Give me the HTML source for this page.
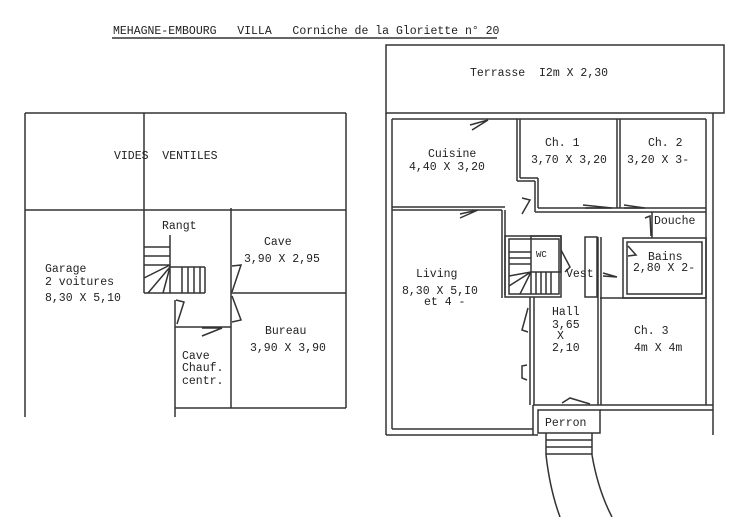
<!DOCTYPE html>
<html><head><style>
body{margin:0;background:#fff;}
svg{display:block}
text{font-family:"Liberation Mono",monospace;font-size:11.5px;fill:#222;white-space:pre;}
</style></head><body>
<svg width="736" height="517" viewBox="0 0 736 517" xmlns="http://www.w3.org/2000/svg">
<g stroke="#333" stroke-width="1.5" fill="none">
<line x1="112" y1="38" x2="497" y2="38"/>
<line x1="25" y1="113" x2="346" y2="113"/>
<line x1="25" y1="113" x2="25" y2="417"/>
<line x1="346" y1="113" x2="346" y2="408"/>
<line x1="144" y1="113" x2="144" y2="293"/>
<line x1="25" y1="210" x2="346" y2="210"/>
<line x1="231" y1="208" x2="231" y2="408"/>
<line x1="231" y1="293" x2="346" y2="293"/>
<line x1="175" y1="327" x2="231" y2="327"/>
<line x1="175" y1="300" x2="175" y2="417"/>
<line x1="175" y1="408" x2="346" y2="408"/>
<line x1="170" y1="235" x2="170" y2="293"/>
<line x1="144" y1="247" x2="170" y2="247"/>
<line x1="144" y1="256" x2="170" y2="256"/>
<line x1="144" y1="265" x2="170" y2="265"/>
<line x1="170" y1="267" x2="205" y2="267"/>
<line x1="144" y1="293" x2="205" y2="293"/>
<line x1="205" y1="267" x2="205" y2="293"/>
<line x1="182" y1="267" x2="182" y2="293"/>
<line x1="188" y1="267" x2="188" y2="293"/>
<line x1="194" y1="267" x2="194" y2="293"/>
<line x1="200" y1="267" x2="200" y2="293"/>
<line x1="170" y1="265" x2="144" y2="278"/>
<line x1="170" y1="267" x2="148" y2="293"/>
<line x1="170" y1="267" x2="163" y2="293"/>
<polyline points="176,300 184,302 177,324"/>
<polyline points="232,266 241,265 232,292"/>
<polyline points="232,296 241,320 232,322"/>
<polyline points="202,328 222,328 202,336"/>
<rect x="386" y="45" width="338" height="68"/>
<line x1="386" y1="113" x2="386" y2="435"/>
<line x1="392" y1="119" x2="392" y2="429"/>
<line x1="713" y1="113" x2="713" y2="435"/>
<line x1="706" y1="119" x2="706" y2="405"/>
<line x1="386" y1="435" x2="538" y2="435"/>
<line x1="392" y1="429" x2="533" y2="429"/>
<line x1="392" y1="119" x2="706" y2="119"/>
<line x1="600" y1="405" x2="713" y2="405"/>
<line x1="600" y1="410" x2="713" y2="410"/>
<line x1="517" y1="119" x2="517" y2="181"/>
<line x1="520" y1="119" x2="520" y2="178"/>
<line x1="517" y1="181" x2="535" y2="181"/>
<line x1="520" y1="178" x2="538" y2="178"/>
<line x1="535" y1="181" x2="535" y2="212"/>
<line x1="538" y1="178" x2="538" y2="208"/>
<line x1="617" y1="119" x2="617" y2="208"/>
<line x1="620" y1="119" x2="620" y2="208"/>
<line x1="392" y1="207" x2="505" y2="207"/>
<line x1="392" y1="210" x2="502" y2="210"/>
<line x1="538" y1="208" x2="706" y2="208"/>
<line x1="535" y1="212" x2="706" y2="212"/>
<line x1="502" y1="210" x2="502" y2="298"/>
<line x1="505" y1="210" x2="505" y2="295"/>
<line x1="652" y1="212" x2="652" y2="238"/>
<rect x="623" y="238" width="83" height="60"/>
<rect x="627" y="242" width="75" height="52"/>
<line x1="600" y1="298" x2="706" y2="298"/>
<rect x="505" y="236" width="56" height="61"/>
<rect x="509" y="239" width="50" height="55"/>
<rect x="531" y="236" width="30" height="36"/>
<line x1="531" y1="272" x2="531" y2="294"/>
<line x1="536" y1="272" x2="536" y2="294"/>
<line x1="541" y1="272" x2="541" y2="294"/>
<line x1="546" y1="272" x2="546" y2="294"/>
<line x1="551" y1="272" x2="551" y2="294"/>
<line x1="509" y1="252" x2="531" y2="252"/>
<line x1="509" y1="258" x2="531" y2="258"/>
<line x1="509" y1="264" x2="531" y2="264"/>
<line x1="531" y1="272" x2="509" y2="276"/>
<line x1="531" y1="272" x2="509" y2="286"/>
<line x1="531" y1="272" x2="520" y2="294"/>
<line x1="530" y1="297" x2="530" y2="405"/>
<line x1="534" y1="297" x2="534" y2="405"/>
<line x1="598" y1="237" x2="598" y2="405"/>
<line x1="601" y1="237" x2="601" y2="405"/>
<rect x="585" y="237" width="12" height="60"/>
<rect x="538" y="410" width="62" height="23"/>
<line x1="533" y1="405" x2="600" y2="405"/>
<line x1="533" y1="405" x2="533" y2="435"/>
<line x1="546" y1="433" x2="546" y2="455"/>
<line x1="592" y1="433" x2="592" y2="455"/>
<line x1="546" y1="440" x2="592" y2="440"/>
<line x1="546" y1="447" x2="592" y2="447"/>
<line x1="546" y1="454" x2="592" y2="454"/>
<path d="M546,455 Q550,490 560,517"/>
<path d="M592,455 Q598,490 612,517"/>
<polyline points="470,125 488,120 472,130"/>
<polyline points="460,214 478,210 460,218"/>
<polyline points="522,198 530,200 522,214"/>
<polyline points="583,205 612,208 585,208"/>
<polyline points="624,205 645,208 624,208"/>
<polyline points="645,218 650,216 651,236"/>
<polyline points="628,246 636,255 628,256"/>
<polyline points="561,250 570,267 565,272"/>
<polyline points="603,273 617,277 603,276"/>
<polyline points="528,308 522,330 528,332"/>
<polyline points="527,365 522,366 522,378 527,380"/>
<polyline points="562,403 570,398 590,404"/>
</g>
<g>
<text x="113" y="34">MEHAGNE-EMBOURG   VILLA   Corniche de la Gloriette n° 20</text>
<text x="114" y="159">VIDES  VENTILES</text>
<text x="162" y="229">Rangt</text>
<text x="264" y="245">Cave</text>
<text x="244" y="262">3,90 X 2,95</text>
<text x="45" y="272">Garage</text>
<text x="45" y="285">2 voitures</text>
<text x="45" y="301">8,30 X 5,10</text>
<text x="265" y="334">Bureau</text>
<text x="250" y="351">3,90 X 3,90</text>
<text x="182" y="359">Cave</text>
<text x="182" y="371">Chauf.</text>
<text x="182" y="384">centr.</text>
<text x="470" y="76">Terrasse  I2m X 2,30</text>
<text x="428" y="157">Cuisine</text>
<text x="409" y="170">4,40 X 3,20</text>
<text x="545" y="146">Ch. 1</text>
<text x="531" y="163">3,70 X 3,20</text>
<text x="648" y="146">Ch. 2</text>
<text x="627" y="163">3,20 X 3-</text>
<text x="654" y="224">Douche</text>
<text x="536" y="257" style="font-size:9px">WC</text>
<text x="648" y="260">Bains</text>
<text x="633" y="271">2,80 X 2-</text>
<text x="416" y="277">Living</text>
<text x="402" y="294">8,30 X 5,I0</text>
<text x="424" y="305">et 4 -</text>
<text x="566" y="277">Vest</text>
<text x="552" y="315">Hall</text>
<text x="552" y="328">3,65</text>
<text x="557" y="339">X</text>
<text x="552" y="351">2,10</text>
<text x="634" y="334">Ch. 3</text>
<text x="634" y="351">4m X 4m</text>
<text x="545" y="426">Perron</text>
</g>
</svg>
</body></html>
